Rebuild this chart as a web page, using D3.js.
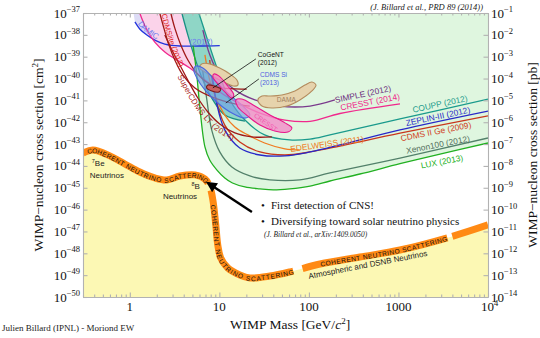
<!DOCTYPE html>
<html>
<head>
<meta charset="utf-8">
<script src="https://cdn.jsdelivr.net/npm/d3@7"></script>
<style>
  body { margin: 0; background: #fff; }
  svg { display: block; }
</style>
</head>
<body>
<svg id="chart"></svg>
<script>
// every point is [WIMP mass in GeV/c^2, log10(cross section / cm^2)]
const neutrinoFloor = [[0.3,-43.41],[0.386,-43.27],[0.598,-43.54],[0.88,-43.91],[1.29,-44.28],[1.9,-44.55],[2.59,-44.64],[3.62,-44.46],[5.33,-44.41],[6.89,-44.6],[7.83,-44.96],[8.46,-45.56],[9.12,-46.7],[9.6,-47.62],[10.35,-48.21],[12.4,-48.67],[16.9,-48.99],[21.9,-49.13],[36.7,-49.04],[61.4,-48.85],[133,-48.49],[371,-48.17],[1040,-47.85],[3800,-47.25],[10000,-46.7]];
const luxLimit = [[5.1,-38.5],[5.6,-39.85],[6.05,-41.3],[6.9,-43.13],[7.8,-43.73],[9.4,-44.19],[11.5,-44.55],[14,-44.78],[19.3,-44.96],[28.4,-45.05],[40,-45.1],[61,-45.05],[103,-44.92],[172,-44.69],[371,-44.37],[1040,-43.9],[2910,-43.46],[10000,-42.95]];
const xenon100Limit = [[6.5,-39.6],[7.25,-40.98],[8.2,-42.35],[10.1,-43.36],[13.8,-44.05],[21.9,-44.46],[36.7,-44.64],[79,-44.64],[172,-44.32],[1040,-43.64],[10000,-42.72]];
const cdmsGeLimit = [[7.8,-39.15],[8.9,-40.75],[11.5,-42.13],[16.9,-42.9],[28.4,-43.36],[54,-43.5],[103,-43.36],[222,-43.09],[1040,-42.5],[10000,-41.71]];
const zeplinLimit = [[8.2,-39.6],[9.4,-41.2],[11.5,-42.35],[16.9,-43.18],[28.4,-43.5],[54,-43.54],[103,-43.36],[222,-43.04],[1040,-42.35],[10000,-41.49]];
const couppLimit = [[5.9,-37],[7.4,-38.24],[9.6,-39.61],[13.1,-40.98],[19.3,-41.9],[32,-42.58],[61,-42.81],[103,-42.77],[172,-42.58],[1040,-41.85],[10000,-40.94]];
const couppBandEdge = [[3.81,-37],[4.45,-38.01],[5.33,-39.06],[6.54,-40.07],[8.46,-40.98],[11.5,-41.67],[19.3,-41.95]];
const cresstLimit = [[1.29,-37],[1.55,-37.78],[1.9,-38.33],[2.46,-38.78],[3.35,-39.15],[4.68,-39.52],[6.9,-40.07],[10.1,-40.62],[16.9,-41.16],[28.4,-41.58],[54,-41.9],[103,-41.96],[222,-41.6],[1040,-41.16]];
const damicLimit = [[1.14,-37.41],[1.29,-37.73],[1.55,-38.01],[1.9,-38.24],[2.46,-38.42],[3.62,-38.51],[6.05,-38.51],[10.1,-38.49]];
const simpleLimit = [[6.54,-37.78],[7.83,-38.92],[10.1,-39.84],[14.9,-40.52],[24.9,-40.98],[47.4,-41.26],[103,-41.26],[195,-40.98]];
const edelweissLimit = [[6.9,-38.92],[7.8,-40.07],[8.9,-40.75],[11.5,-41.67],[14.9,-42.22],[20.8,-42.58],[32,-42.95],[54,-43.22],[79,-43.27]];
const superCdmsLimit = [[2.46,-38.01],[2.95,-38.69],[3.62,-39.38],[4.56,-40.16],[5.75,-40.89],[7.44,-41.53],[10.1,-42.08],[14.9,-42.49],[23,-42.67],[38.6,-42.67]];
const cdmsliteLimit = [[2.16,-37],[2.4,-37.69],[2.73,-38.46],[3.18,-39.15],[3.91,-39.84],[5.33,-40.43],[8.24,-40.84],[14.9,-41.16],[21.9,-41.26]];
const cdmsliteEdge = [[2.87,-37],[3.18,-37.69],[3.71,-38.46],[4.45,-39.15],[5.6,-39.75],[7.44,-40.2],[10.7,-40.43],[20.2,-40.48]];

const damaLow = [[6.37,-39.33],[7.83,-39.33],[10.1,-39.52],[13.1,-39.79],[15.7,-40.07],[16.1,-40.3],[14.2,-40.34],[11.2,-40.16],[8.68,-39.93],[6.89,-39.7],[6.05,-39.52]];
const damaHigh = [[26.9,-40.98],[29.9,-40.8],[36.7,-40.8],[49.9,-40.75],[69.8,-40.57],[90.2,-40.3],[108,-40.16],[120,-40.3],[108,-40.57],[79.3,-40.98],[56.8,-41.26],[38.6,-41.35],[29.9,-41.26]];
const cdmsSiRegion = [[5.46,-39.43],[6.54,-39.52],[8.91,-40.07],[13.1,-40.75],[19.3,-41.35],[21.9,-41.67],[19.3,-41.81],[13.8,-41.58],[9.6,-41.12],[6.89,-40.52],[5.6,-39.97],[5.18,-39.61]];
const cresstM2 = [[8.68,-39.79],[9.85,-39.88],[12.4,-40.34],[14.5,-40.75],[13.8,-40.89],[11.8,-40.66],[9.6,-40.25],[8.46,-39.93]];
const cresstM1 = [[15.3,-40.98],[17.8,-40.94],[24.9,-41.26],[36.7,-41.67],[54,-42.03],[64.5,-42.26],[58.2,-42.45],[41.5,-42.4],[28.4,-42.13],[20.8,-41.72],[16.1,-41.3]];
const cogentRegion = [[7.44,-40.3],[8.68,-40.34],[10.35,-40.48],[9.85,-40.62],[8.24,-40.57],[7.2,-40.43]];

// gaps in the dashed neutrino floor (mass ranges) and where its three captions run
const floorGaps = [[7.45, 8.03], [66, 84], [3480, 3960]];
const floorCaptions = [[0.33, 7.3], [8.6, 66], [133, 3400]];

const xMajorTicks = [1, 10, 100, 1000, 10000];
const xTickLabels = ["1", "10", "100", "1000", null];
const leftExponents = [-37, -38, -39, -40, -41, -42, -43, -44, -45, -46, -47, -48, -49, -50];
const rightExponents = [-1, -2, -3, -4, -5, -6, -7, -8, -9, -10, -11, -12, -13, -14];

const width = 540, height = 338;
const margins = {top: 13, right: 52, bottom: 41, left: 83};
const serif = "'Liberation Serif', 'Times New Roman', serif";
const sans = "'Liberation Sans', Arial, sans-serif";
const frameGrey = "#b2b2b2";

const svg = d3.select("#chart").attr("width", width).attr("height", height)
  .style("font-family", serif);

const x = d3.scaleLog().domain([0.3, 1e4]).range([margins.left, width - margins.right]);
const y = d3.scaleLinear().domain([-50, -37]).range([height - margins.bottom, margins.top]);
const yPb = d3.scaleLinear().domain([-14, -1]).range(y.range());

const line = d3.line().x(d => x(d[0])).y(d => y(d[1])).curve(d3.curveCatmullRom.alpha(0.5));
const blob = d3.line().x(d => x(d[0])).y(d => y(d[1])).curve(d3.curveCatmullRomClosed.alpha(0.5));
const join = (a, b) => a + "L" + b.slice(1);

const plotTop = y(-37), plotBottom = y(-50), plotLeft = x.range()[0], plotRight = x.range()[1];

const defs = svg.append("defs");
defs.append("clipPath").attr("id", "plotClip").append("rect")
  .attr("x", plotLeft).attr("y", plotTop)
  .attr("width", plotRight - plotLeft).attr("height", plotBottom - plotTop);
defs.append("marker").attr("id", "arrowHead")
  .attr("viewBox", "0 0 10 10").attr("refX", 8).attr("refY", 5)
  .attr("markerWidth", 5).attr("markerHeight", 4.5).attr("orient", "auto")
  .append("path").attr("d", "M0,0L10,5L0,10Z").attr("fill", "#000");

const plot = svg.append("g").attr("clip-path", "url(#plotClip)");

// filled regions
plot.append("path")
  .attr("d", line(damicLimit) + `L${x(10.1)},${plotTop}L${x(1.1)},${plotTop}Z`)
  .attr("fill", "#dddcf6");
plot.append("path")
  .attr("d", line(luxLimit) + `L${plotRight},${plotTop}L${x(5.4)},${plotTop}Z`)
  .attr("fill", "#dff6df");
plot.append("path")
  .attr("d", line(neutrinoFloor) + `L${plotRight},${plotBottom}L${plotLeft},${plotBottom}Z`)
  .attr("fill", "#fcf8b4");
plot.append("path")
  .attr("d", join(line(cresstLimit.slice(0, 7)), line(couppBandEdge.slice(0, 4).reverse())) + "Z")
  .attr("fill", "#fbd3ea");
plot.append("path")
  .attr("d", join(line(couppBandEdge), line(couppLimit.slice(0, 5).reverse())) + "Z")
  .attr("fill", "#8fd6c6");

// limit curves
const curves = [
  {data: damicLimit, color: "#2233dd", id: "damicPath"},
  {data: cresstLimit, color: "#f0288c"},
  {data: couppBandEdge, color: "#1a8f84"},
  {data: couppLimit, color: "#1a9a8c"},
  {data: simpleLimit, color: "#7a3a8c"},
  {data: edelweissLimit, color: "#f07a20"},
  {data: cdmsGeLimit, color: "#c8361c"},
  {data: zeplinLimit, color: "#2828c8"},
  {data: xenon100Limit, color: "#52806a"},
  {data: luxLimit, color: "#22b022"},
  {data: superCdmsLimit, color: "#a01818", id: "superPath"},
  {data: cdmsliteLimit, color: "#a01818", id: "cdmslitePath"},
  {data: cdmsliteEdge, color: "#a01818"}
];
curves.forEach(c => {
  const p = plot.append("path")
    .attr("d", line(c.data))
    .attr("fill", "none")
    .attr("stroke", c.color)
    .attr("stroke-width", 1.3);
  if (c.id) p.attr("id", c.id);
});

// signal regions
const regions = [
  {data: damaLow, fill: "#e6d3ac", stroke: "#b38b5d"},
  {data: damaHigh, fill: "#e6d3ac", stroke: "#b38b5d"},
  {data: cdmsSiRegion, fill: "rgba(110,160,230,0.65)", stroke: "#4a66e0"},
  {data: cresstM2, fill: "rgba(242,130,196,0.8)", stroke: "#e8178a"},
  {data: cresstM1, fill: "rgba(242,140,200,0.8)", stroke: "#e8178a"},
  {data: cogentRegion, fill: "#c86060", stroke: "#7a1a1a"}
];
regions.forEach(r => {
  plot.append("path")
    .attr("d", blob(r.data))
    .attr("fill", r.fill)
    .attr("stroke", r.stroke)
    .attr("stroke-width", 1.1);
});

// neutrino floor
const floorPath = plot.append("path")
  .attr("id", "floorPath")
  .attr("d", line(neutrinoFloor))
  .attr("fill", "none")
  .attr("stroke", "#ff8a14")
  .attr("stroke-width", 7);
const floorNode = floorPath.node();
function lengthAtX(node, px) {
  const total = node.getTotalLength();
  for (let s = 0; s <= total; s += 0.5) {
    if (node.getPointAtLength(s).x >= px) return s;
  }
  return total;
}
let dash = [], last = 0;
floorGaps.forEach(([a, b]) => {
  const s1 = lengthAtX(floorNode, x(a)), s2 = lengthAtX(floorNode, x(b));
  dash.push(s1 - last, s2 - s1);
  last = s2;
});
dash.push(floorNode.getTotalLength());
floorPath.attr("stroke-dasharray", dash.join(","));

floorCaptions.forEach(([a, b]) => {
  const s1 = lengthAtX(floorNode, x(a)), s2 = lengthAtX(floorNode, x(b));
  plot.append("text")
    .attr("font-family", sans).attr("font-size", 6.6).attr("fill", "#111")
    .attr("dominant-baseline", "central")
    .append("textPath")
      .attr("href", "#floorPath")
      .attr("startOffset", s1)
      .attr("textLength", s2 - s1)
      .attr("lengthAdjust", "spacing")
      .text("COHERENT NEUTRINO SCATTERING");
});

// labels running along curves
const damicNode = d3.select("#damicPath").node();
[["DAMIC", 3], ["(2012)", lengthAtX(damicNode, x(4.6))]].forEach(([t, off]) => {
  plot.append("text").attr("font-family", sans).attr("font-size", 8).attr("fill", "#7080ee")
    .attr("dy", -1.5)
    .append("textPath").attr("href", "#damicPath").attr("startOffset", off).text(t);
});
plot.append("text").attr("font-family", sans).attr("font-size", 7.6).attr("fill", "#e02424")
  .attr("dy", -1.2)
  .append("textPath").attr("href", "#cdmslitePath").attr("startOffset", 2).text("CDMSlite (2013)");
plot.append("text").attr("font-family", sans).attr("font-size", 8).attr("fill", "#a82020")
  .attr("dy", 7.5)
  .append("textPath").attr("href", "#superPath")
  .attr("startOffset", lengthAtX(d3.select("#superPath").node(), 184))
  .text("SuperCDMS LT (2014)");

// straight curve labels: [text, mass, log10 sigma, angle, colour]
const curveLabels = [
  ["SIMPLE (2012)", 401, -40.71, -12, "#6a2a7c"],
  ["CRESST (2014)", 481, -41.07, -11, "#f0288c"],
  ["COUPP (2012)", 2910, -41.16, -12, "#1a9a8c"],
  ["ZEPLIN-III (2012)", 2760, -41.73, -12, "#2828c8"],
  ["CDMS II Ge (2009)", 2620, -42.42, -11, "#d0401c"],
  ["Xenon100 (2012)", 2760, -43.02, -11, "#557060"],
  ["LUX (2013)", 3060, -43.8, -11, "#22b022"],
  ["EDELWEISS (2011)", 159, -42.99, -8, "#f07a20"],
  ["DAMA", 56, -40.98, 0, "#a08060"],
  ["CRESST", 33, -42.0, 35, "#f45ab0"]
];
curveLabels.forEach(([t, m, s, a, c]) => {
  svg.append("text")
    .attr("transform", `translate(${x(m)},${y(s)}) rotate(${a})`)
    .attr("text-anchor", "middle").attr("dominant-baseline", "central")
    .attr("font-family", sans).attr("font-size", t.length < 7 ? 6.6 : 8.4)
    .attr("fill", c).text(t);
});

// pointer labels
const pointers = [
  {lines: ["CoGeNT", "(2012)"], at: [26.9, -39.01], from: [25.6, -39.1], to: [8.46, -40.43], color: "#111"},
  {lines: ["CDMS Si", "(2013)"], at: [28.4, -39.93], from: [27.6, -40.02], to: [11.8, -41.12], color: "#5060e0"}
];
pointers.forEach(p => {
  svg.append("line")
    .attr("x1", x(p.from[0])).attr("y1", y(p.from[1]))
    .attr("x2", x(p.to[0])).attr("y2", y(p.to[1]))
    .attr("stroke", "#111").attr("stroke-width", 0.8);
  p.lines.forEach((t, i) => {
    svg.append("text")
      .attr("x", x(p.at[0])).attr("y", y(p.at[1]) + i * 8)
      .attr("font-family", sans).attr("font-size", 6.6).attr("fill", p.color)
      .text(t);
  });
});

// neutrino source labels
function neutrinoLabel(mass, sigma, anchor, iso, name) {
  const t = svg.append("text").attr("x", x(mass)).attr("y", y(sigma))
    .attr("text-anchor", anchor).attr("font-family", sans).attr("font-size", 8).attr("fill", "#222");
  t.append("tspan").attr("font-size", 5.5).attr("dy", -3).text(iso);
  t.append("tspan").attr("dy", 3).text(name);
  return t;
}
neutrinoLabel(0.376, -44.0, "start", "7", "Be");
svg.append("text").attr("x", x(0.357)).attr("y", y(-44.55)).attr("font-family", sans)
  .attr("font-size", 8).attr("fill", "#222").text("Neutrinos");
neutrinoLabel(6.05, -45.05, "end", "8", "B");
svg.append("text").attr("x", x(2.34)).attr("y", y(-45.51)).attr("font-family", sans)
  .attr("font-size", 8).attr("fill", "#222").text("Neutrinos");
svg.append("text")
  .attr("transform", `translate(${x(456)},${y(-48.53)}) rotate(-11)`)
  .attr("text-anchor", "middle").attr("dominant-baseline", "central")
  .attr("font-family", sans).attr("font-size", 8).attr("fill", "#222")
  .text("Atmospheric and DSNB Neutrinos");

// arrow to the 8B shoulder
svg.append("line")
  .attr("x1", x(23.1)).attr("y1", y(-46.11))
  .attr("x2", x(7.44)).attr("y2", y(-44.78))
  .attr("stroke", "#000").attr("stroke-width", 2.4)
  .attr("marker-end", "url(#arrowHead)");

// frame and ticks
const xMinor = x.ticks().filter(v => !xMajorTicks.some(t => Math.abs(t - v) < 1e-9));
function styleAxis(g) {
  g.selectAll("path, line").attr("stroke", frameGrey).attr("stroke-width", 1.1);
}
[[d3.axisBottom, plotBottom], [d3.axisTop, plotTop]].forEach(([axis, pos]) => {
  svg.append("g").attr("transform", `translate(0,${pos})`)
    .call(axis(x).tickValues(xMinor).tickSizeInner(-2.5).tickSizeOuter(0).tickFormat(""))
    .call(styleAxis);
  svg.append("g").attr("transform", `translate(0,${pos})`)
    .call(axis(x).tickValues(xMajorTicks).tickSizeInner(-4.5).tickSizeOuter(0).tickFormat(""))
    .call(styleAxis);
});
svg.append("g").attr("transform", `translate(${plotLeft},0)`)
  .call(d3.axisLeft(y).tickValues(leftExponents).tickSizeInner(-4.5).tickSizeOuter(0).tickFormat(""))
  .call(styleAxis);
svg.append("g").attr("transform", `translate(${plotRight},0)`)
  .call(d3.axisRight(yPb).tickValues(rightExponents).tickSizeInner(-4.5).tickSizeOuter(0).tickFormat(""))
  .call(styleAxis);

function powerText(px, py, exp, anchor) {
  const t = svg.append("text").attr("x", px).attr("y", py)
    .attr("text-anchor", anchor).attr("font-size", 13).attr("fill", "#111");
  t.append("tspan").text("10");
  t.append("tspan").attr("font-size", 8.5).attr("dy", -5.5)
    .text(exp < 0 ? "\u2212" + (-exp) : String(exp));
  return t;
}
leftExponents.forEach(e => powerText(plotLeft - 3, y(e) + 4.5, e, "end"));
rightExponents.forEach(e => powerText(plotRight + 3, yPb(e) + 4.5, e, "start"));
xMajorTicks.forEach((v, i) => {
  if (xTickLabels[i]) {
    svg.append("text").attr("x", x(v)).attr("y", plotBottom + 14)
      .attr("text-anchor", "middle").attr("font-size", 13).attr("fill", "#111")
      .text(xTickLabels[i]);
  } else {
    powerText(x(v) - 7, plotBottom + 14, Math.log10(v), "start");
  }
});

// axis titles
function sigmaTitle(px, unit, sup) {
  const t = svg.append("text")
    .attr("transform", `translate(${px},155) rotate(-90)`)
    .attr("text-anchor", "middle").attr("font-size", 13.5).attr("fill", "#111");
  t.append("tspan").text("WIMP\u2212nucleon cross section [" + unit);
  if (sup) {
    t.append("tspan").attr("font-size", 9).attr("dy", -5).text(sup);
    t.append("tspan").attr("dy", 5).text("]");
  } else {
    t.append("tspan").text("]");
  }
}
sigmaTitle(43, "cm", "2");
sigmaTitle(537, "pb", null);

const xTitle = svg.append("text").attr("x", 290).attr("y", 329)
  .attr("text-anchor", "middle").attr("font-size", 13.5).attr("fill", "#111");
xTitle.append("tspan").text("WIMP Mass [GeV/");
xTitle.append("tspan").attr("font-style", "italic").text("c");
xTitle.append("tspan").attr("font-size", 9).attr("dy", -5).text("2");
xTitle.append("tspan").attr("dy", 5).text("]");

// notes
svg.append("text").attr("x", 483).attr("y", 9.5).attr("text-anchor", "end")
  .attr("font-size", 8.5).attr("font-style", "italic").attr("fill", "#222")
  .text("(J. Billard et al., PRD 89 (2014))");
svg.append("text").attr("x", 2).attr("y", 331)
  .attr("font-size", 9).attr("fill", "#222")
  .text("Julien Billard (IPNL) - Moriond EW");
["First detection of CNS!", "Diversifying toward solar neutrino physics"].forEach((t, i) => {
  svg.append("text").attr("x", 261).attr("y", 209 + i * 16).attr("font-size", 11).attr("fill", "#111").text("\u2022");
  svg.append("text").attr("x", 271).attr("y", 209 + i * 16).attr("font-size", 11).attr("fill", "#111").text(t);
});
svg.append("text").attr("x", 264).attr("y", 237)
  .attr("font-size", 7.4).attr("font-style", "italic").attr("fill", "#222")
  .text("(J. Billard et al., arXiv:1409.0050)");
</script>
</body>
</html>
